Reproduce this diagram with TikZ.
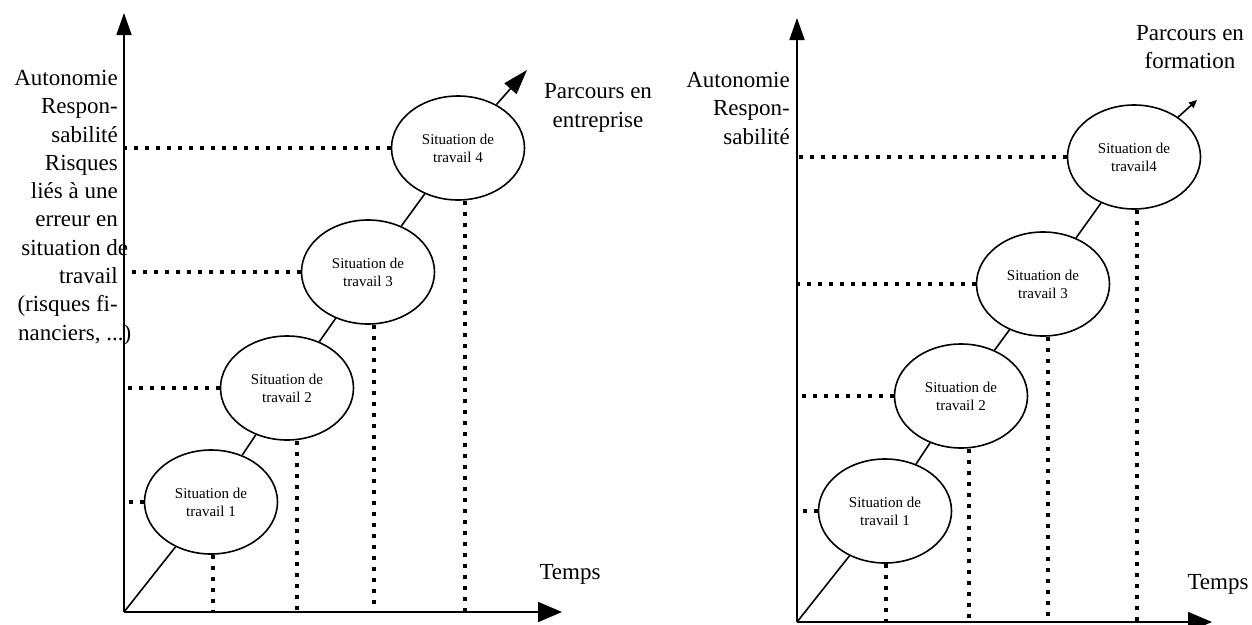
\documentclass[tikz,border=0pt]{standalone}
\usepackage{fontspec}
\setmainfont{Liberation Serif}
\usetikzlibrary{shapes.geometric, arrows.meta, positioning}

\begin{document}
\begin{tikzpicture}[
    x=1pt, y=-1pt,
    situation/.style={ellipse, draw, line width=1.6pt, minimum width=133pt, minimum height=104pt, inner sep=0pt, align=center, font=\fontsize{15}{18}\selectfont},
    axis/.style={line width=1.8pt, -{Triangle[length=22pt, width=15pt]}},
    track/.style={line width=1.6pt},
    guide/.style={line width=4pt, dash pattern=on 4pt off 7pt},
    caption/.style={inner sep=0pt, font=\fontsize{23}{28.3}\selectfont}
]
    \useasboundingbox (0,0) rectangle (1252,624);

    \coordinate (O1) at (124,612);
    \coordinate (Y1) at (124,13);
    \coordinate (X1) at (562,612);
    \coordinate (P1) at (527,70);

    \node[situation] (a1) at (211,502) {Situation de\\travail 1};
    \node[situation] (a2) at (287,388) {Situation de\\travail 2};
    \node[situation] (a3) at (368,272) {Situation de\\travail 3};
    \node[situation] (a4) at (458,148) {Situation de\\travail 4};

    \node[caption, align=right, anchor=north east] (ylab1) at (118,70) {Autonomie\\Respon-\\sabilité\\Risques\\liés à une\\erreur en\\situation d\rlap{e}\\travail\\(risques fi-\\nanciers, ..\rlap{.)}};
    \node[caption, align=center] (path1) at (598,108) {Parcours en\\entreprise};
    \node[caption] (time1) at (570,574) {Temps};

    \draw[axis] (O1) -- (Y1);
    \draw[axis, -{Triangle[length=24pt, width=20pt]}] (O1) -- (X1);

    \draw[track] (O1) -- (a1);
    \draw[track] (a1) -- (a2);
    \draw[track] (a2) -- (a3);
    \draw[track] (a3) -- (a4);
    \draw[track, -{Triangle[length=25pt, width=16pt]}] (a4) -- (P1);

    \draw[guide] (a1.west) -- (a1.west -| O1);
    \draw[guide] (a2.west) -- (a2.west -| O1);
    \draw[guide] (a3.west) -- (a3.west -| O1);
    \draw[guide] (a4.west) -- (a4.west -| O1);
    \draw[guide] ([xshift=2pt]a1.south) -- ([xshift=2pt]a1.south |- O1);
    \draw[guide] ([xshift=10pt]a2.south) -- ([xshift=10pt]a2.south |- O1);
    \draw[guide] ([xshift=6pt]a3.south) -- ([xshift=6pt]a3.south |- O1);
    \draw[guide] ([xshift=7pt]a4.south) -- ([xshift=7pt]a4.south |- O1);

    \coordinate (O2) at (797,622);
    \coordinate (Y2) at (797,18);
    \coordinate (X2) at (1212,622);
    \coordinate (P2) at (1197,100);

    \node[situation] (b1) at (885,511) {Situation de\\travail 1};
    \node[situation] (b2) at (961,396) {Situation de\\travail 2};
    \node[situation] (b3) at (1043,284) {Situation de\\travail 3};
    \node[situation] (b4) at (1134,157) {Situation de\\travail4};

    \node[caption, align=right, anchor=north east] (ylab2) at (790,72) {Autonomie\\Respon-\\sabilité};
    \node[caption, align=center] (path2) at (1190,47) {Parcours en\\formation};
    \node[caption] (time2) at (1218,584) {Temps};

    \draw[axis] (O2) -- (Y2);
    \draw[axis, -{Triangle[length=24pt, width=20pt]}] (O2) -- (X2);

    \draw[track] (O2) -- (b1);
    \draw[track] (b1) -- (b2);
    \draw[track] (b2) -- (b3);
    \draw[track] (b3) -- (b4);
    \draw[track, -{Triangle[length=8pt, width=7pt]}] (b4) -- (P2);

    \draw[guide] (b1.west) -- (b1.west -| O2);
    \draw[guide] (b2.west) -- (b2.west -| O2);
    \draw[guide] (b3.west) -- (b3.west -| O2);
    \draw[guide] (b4.west) -- (b4.west -| O2);
    \draw[guide] ([xshift=1pt]b1.south) -- ([xshift=1pt]b1.south |- O2);
    \draw[guide] ([xshift=8pt]b2.south) -- ([xshift=8pt]b2.south |- O2);
    \draw[guide] ([xshift=5pt]b3.south) -- ([xshift=5pt]b3.south |- O2);
    \draw[guide] ([xshift=3pt]b4.south) -- ([xshift=3pt]b4.south |- O2);
\end{tikzpicture}
\end{document}
